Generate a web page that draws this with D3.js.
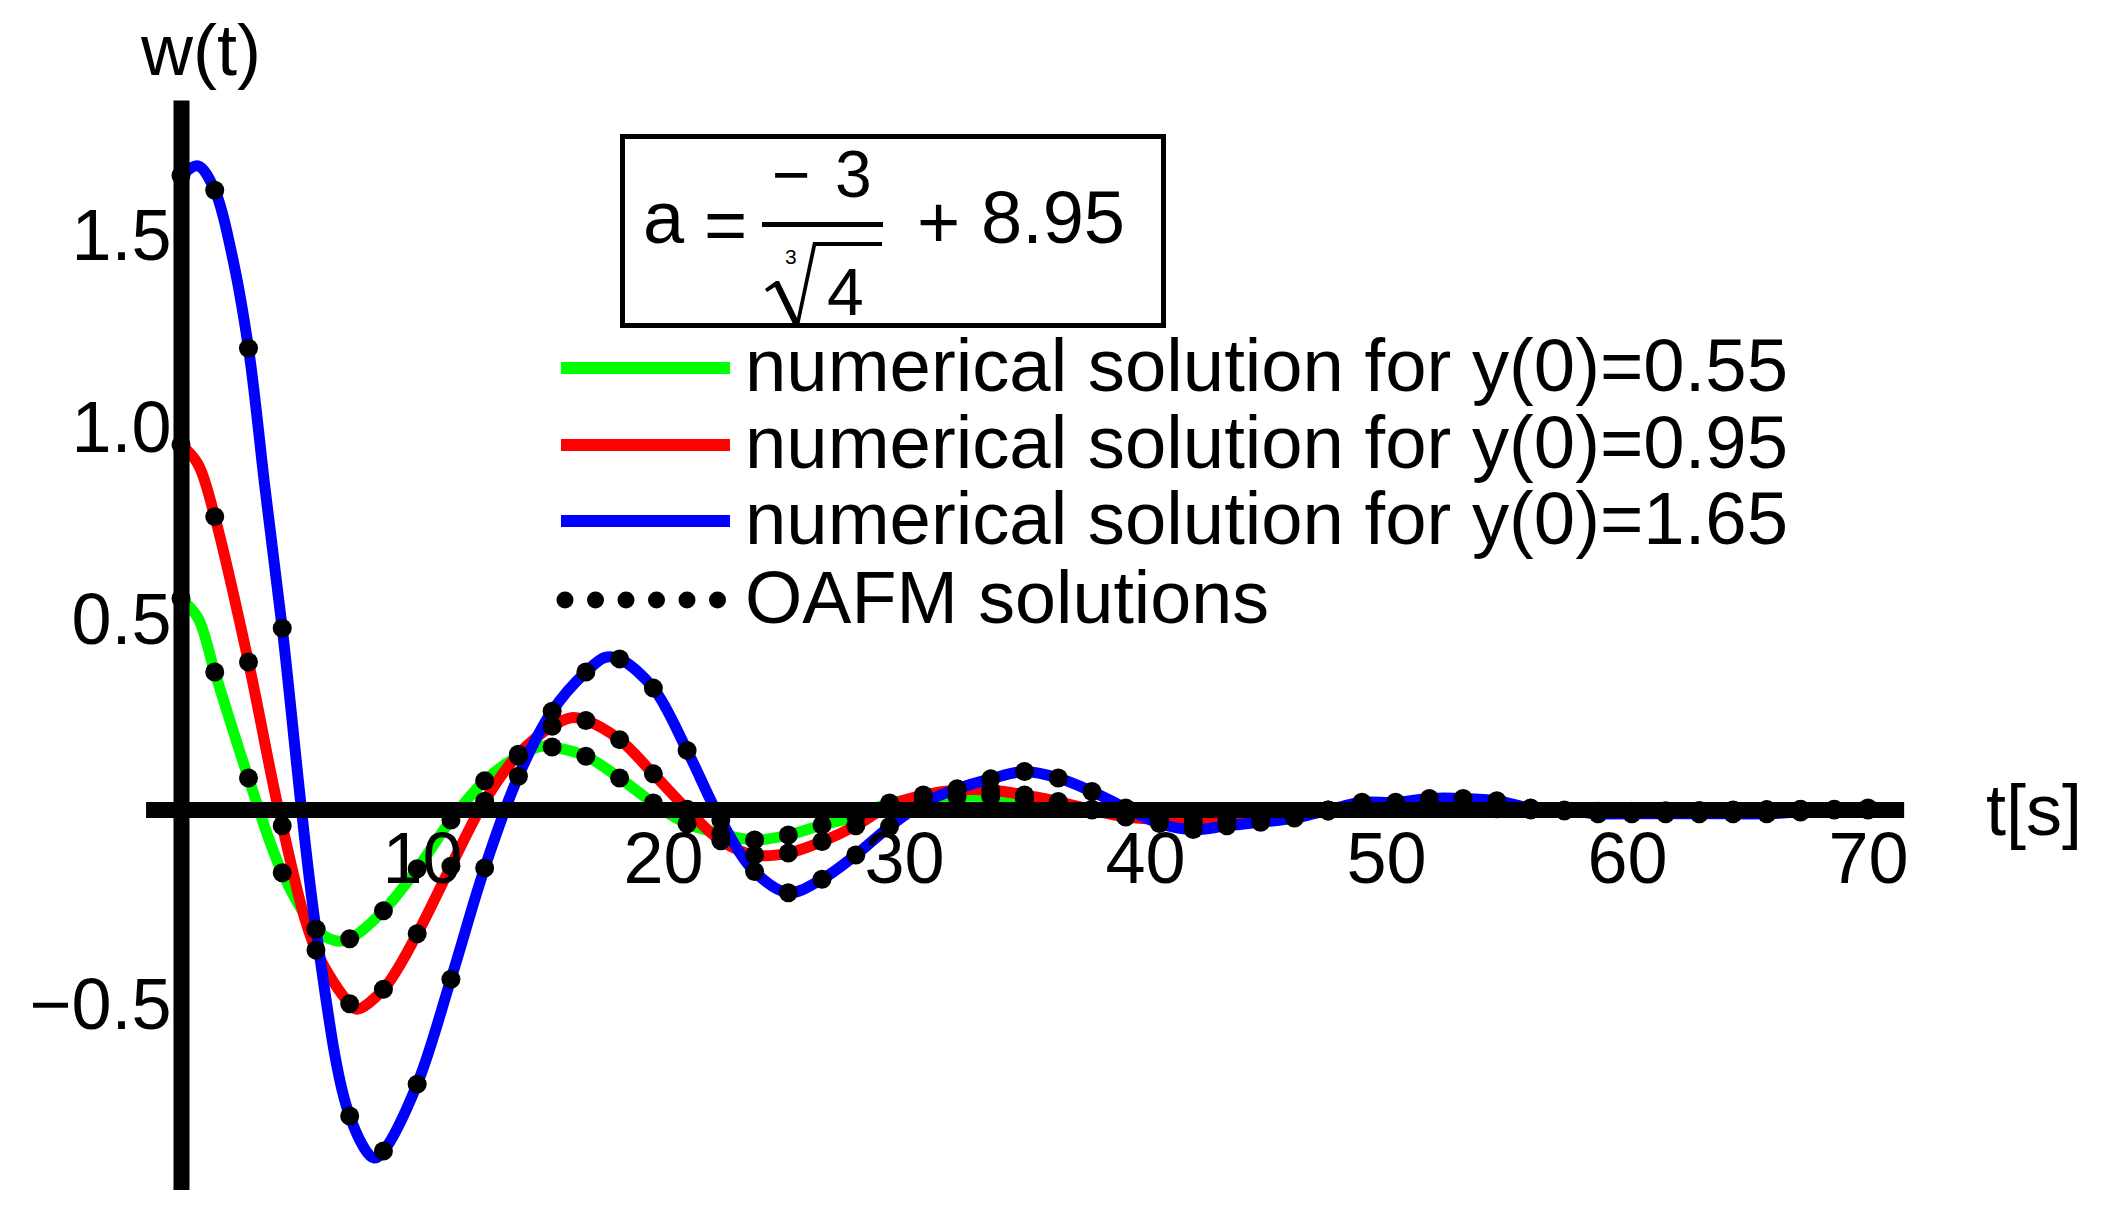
<!doctype html>
<html>
<head>
<meta charset="utf-8">
<script src="https://d3js.org/d3.v7.min.js"></script>
<style>
  body { margin: 0; background: #fff; }
  text { font-family: "Liberation Sans", Arial, sans-serif; fill: #000; }
</style>
</head>
<body>
<svg id="chart" width="2109" height="1214"></svg>
<script>
// sample times of the OAFM dots (every 1.4 s)
var tDots = [0, 1.4, 2.8, 4.2, 5.6, 7, 8.4, 9.8, 11.2, 12.6, 14, 15.4, 16.8, 18.2, 19.6,
    21, 22.4, 23.8, 25.2, 26.6, 28, 29.4, 30.8, 32.2, 33.6, 35, 36.4, 37.8, 39.2, 40.6,
    42, 43.4, 44.8, 46.2, 47.6, 49, 50.4, 51.8, 53.2, 54.6, 56, 57.4, 58.8, 60.2, 61.6,
    63, 64.4, 65.8, 67.2, 68.6, 70];

// values at those times
var green = [0.55, 0.359, 0.083, -0.163, -0.31, -0.335, -0.262, -0.153, -0.026, 0.076, 0.14,
    0.164, 0.14, 0.083, 0.018, -0.036, -0.062, -0.078, -0.065, -0.039, -0.017, 0.018, 0.03,
    0.035, 0.035, 0.028, 0.015, 0.002, -0.01, -0.015, -0.015, -0.012, -0.008, -0.004, 0,
    0.004, 0.006, 0.006, 0.005, 0.003, 0, -0.002, -0.003, -0.003, -0.002, -0.001, 0,
    0.001, 0.001, 0.001, 0];
var red = [0.95, 0.763, 0.385, -0.041, -0.364, -0.504, -0.466, -0.322, -0.146, 0.023, 0.145,
    0.218, 0.233, 0.183, 0.094, 0.002, -0.08, -0.117, -0.112, -0.082, -0.041, 0.012, 0.039,
    0.052, 0.052, 0.039, 0.022, 0, -0.018, -0.025, -0.03, -0.027, -0.02, -0.012, -0.003,
    0.008, 0.012, 0.014, 0.012, 0.008, 0.003, -0.002, -0.005, -0.006, -0.006, -0.004,
    -0.002, 0, 0.002, 0.002, 0.002];
var blue = [1.65, 1.612, 1.201, 0.473, -0.31, -0.796, -0.887, -0.713, -0.44, -0.151, 0.088,
    0.257, 0.359, 0.393, 0.317, 0.155, -0.026, -0.16, -0.215, -0.18, -0.117, -0.043, 0.018,
    0.055, 0.081, 0.1, 0.083, 0.048, 0.005, -0.035, -0.051, -0.041, -0.032, -0.021, 0,
    0.02, 0.02, 0.03, 0.03, 0.024, 0.005, 0, -0.01, -0.01, -0.01, -0.01, -0.01, -0.01,
    -0.005, 0, 0.005];

// extra points of the numerical curves between dots (turning points)
var greenExtra = [[0.7, 0.5], [6.4, -0.34], [15.0, 0.166]];
var redExtra = [[0.7, 0.9], [7.3, -0.518], [16.2, 0.24]];
var blueExtra = [[0.7, 1.675], [2.1, 1.448], [3.5, 0.83], [8.0, -0.905], [17.6, 0.397]];

var xTicks = [10, 20, 30, 40, 50, 60, 70];
var yTicks = [-0.5, 0.5, 1.0, 1.5];
var legendLabels = ["numerical solution for y(0)=0.55",
    "numerical solution for y(0)=0.95",
    "numerical solution for y(0)=1.65",
    "OAFM solutions"];
var legendWidths = [1043, 1043, 1043, 524];
var colors = ["#00ff00", "#ff0000", "#0000ff"];

var svg = d3.select("#chart");

var x = d3.scaleLinear().domain([0, 70]).range([181, 1868]);
var y = d3.scaleLinear().domain([0, 1]).range([810, 425.5]);

function linePoints(vals, extra) {
    var pts = tDots.map(function (t, i) { return [t, vals[i]]; }).concat(extra);
    pts.sort(function (a, b) { return a[0] - b[0]; });
    return pts;
}

var line = d3.line()
    .x(function (d) { return x(d[0]); })
    .y(function (d) { return y(d[1]); })
    .curve(d3.curveCatmullRom.alpha(0.5));

var series = [[green, greenExtra], [red, redExtra], [blue, blueExtra]];

// curves
svg.append("g").selectAll("path")
    .data(series)
    .enter()
    .append("path")
    .attr("d", function (s) { return line(linePoints(s[0], s[1])); })
    .attr("fill", "none")
    .attr("stroke", function (s, i) { return colors[i]; })
    .attr("stroke-width", 11);

// axes lines (thick)
svg.append("line")
    .attr("x1", x(-1.45)).attr("x2", x(71.5))
    .attr("y1", y(0)).attr("y2", y(0))
    .attr("stroke", "#000").attr("stroke-width", 16);
svg.append("line")
    .attr("x1", x(0) + 0.5).attr("x2", x(0) + 0.5)
    .attr("y1", y(1.845)).attr("y2", y(-0.988))
    .attr("stroke", "#000").attr("stroke-width", 16);

// tick labels via d3 axes
var fmt = d3.format(".1f");
svg.append("g")
    .attr("transform", "translate(0," + y(0) + ")")
    .call(d3.axisBottom(x).tickValues(xTicks).tickSize(0).tickPadding(22))
    .call(function (g) { g.select(".domain").remove(); })
    .call(function (g) {
        g.selectAll("text").attr("font-size", 72)
            .style("font-family", "'Liberation Sans', Arial, sans-serif").attr("fill", "#000");
    });

svg.append("g")
    .attr("transform", "translate(" + (x(0) + 0.5) + ",0)")
    .call(d3.axisLeft(y).tickValues(yTicks).tickSize(0).tickPadding(10).tickFormat(fmt))
    .call(function (g) { g.select(".domain").remove(); })
    .call(function (g) {
        g.selectAll("text").attr("font-size", 72).attr("dy", "0.36em")
            .style("font-family", "'Liberation Sans', Arial, sans-serif").attr("fill", "#000");
    });

// OAFM dots
var dotData = [];
[green, red, blue].forEach(function (vals) {
    vals.forEach(function (v, i) { dotData.push([tDots[i], v]); });
});
svg.append("g").selectAll("circle")
    .data(dotData)
    .enter()
    .append("circle")
    .attr("cx", function (d) { return x(d[0]); })
    .attr("cy", function (d) { return y(d[1]); })
    .attr("r", 9.5)
    .attr("fill", "#000");

// axis titles
svg.append("text").attr("x", 141).attr("y", 75).attr("font-size", 72).text("w(t)");
svg.append("text").attr("x", 1986).attr("y", 835).attr("font-size", 72).text("t[s]");

// formula box
var box = svg.append("g");
box.append("rect").attr("x", 622.5).attr("y", 136.5).attr("width", 541).attr("height", 189)
    .attr("fill", "none").attr("stroke", "#000").attr("stroke-width", 5);
box.append("text").attr("x", 643).attr("y", 243).attr("font-size", 74).text("a");
box.append("text").attr("x", 704).attr("y", 250).attr("font-size", 74).text("=");
box.append("line").attr("x1", 762).attr("x2", 883).attr("y1", 224.5).attr("y2", 224.5)
    .attr("stroke", "#000").attr("stroke-width", 5);
box.append("text").attr("x", 772).attr("y", 197).attr("font-size", 66).text("\u2212");
box.append("text").attr("x", 835).attr("y", 197).attr("font-size", 66).text("3");
// radical sign
box.append("path").attr("d", "M765,289 L776,281 L779,281 L797,318 L813,242 L882,242 L882,246 L816,246 L799,326 L794,326 L775,287 L767,292 Z")
    .attr("fill", "#000");
box.append("text").attr("x", 785).attr("y", 264).attr("font-size", 21).text("3");
box.append("text").attr("x", 827).attr("y", 315).attr("font-size", 66).text("4");
box.append("text").attr("x", 917).attr("y", 248).attr("font-size", 74).text("+");
box.append("text").attr("x", 981).attr("y", 243).attr("font-size", 74).text("8.95");

// legend
var legend = svg.append("g");
var rowY = [368, 445, 521, 600];
legend.selectAll("line.key")
    .data(colors)
    .enter()
    .append("line")
    .attr("class", "key")
    .attr("x1", 561).attr("x2", 730)
    .attr("y1", function (d, i) { return rowY[i]; })
    .attr("y2", function (d, i) { return rowY[i]; })
    .attr("stroke", function (d) { return d; })
    .attr("stroke-width", 12);
legend.selectAll("circle")
    .data(d3.range(6))
    .enter()
    .append("circle")
    .attr("cx", function (d) { return 565 + d * 30.5; })
    .attr("cy", rowY[3])
    .attr("r", 8.5)
    .attr("fill", "#000");
legend.selectAll("text")
    .data(legendLabels)
    .enter()
    .append("text")
    .attr("x", 745)
    .attr("y", function (d, i) { return rowY[i] + 23; })
    .attr("font-size", 74)
    .attr("textLength", function (d, i) { return legendWidths[i]; })
    .attr("lengthAdjust", "spacingAndGlyphs")
    .text(function (d) { return d; });
</script>
</body>
</html>
